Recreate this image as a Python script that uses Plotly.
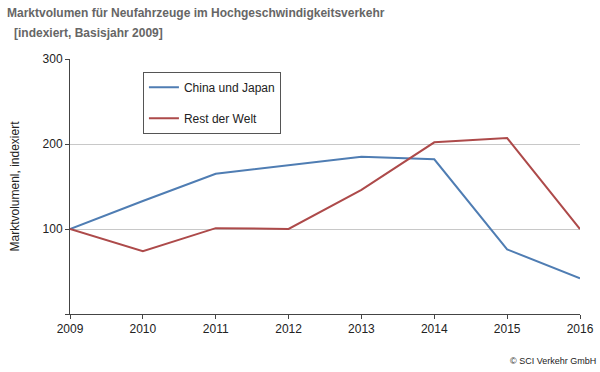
import plotly.graph_objects as go

years = [2009, 2010, 2011, 2012, 2013, 2014, 2015, 2016]
china_japan = [100, 133, 165, 175, 185, 182, 76, 42]
rest_der_welt = [100, 74, 101, 100, 146, 202, 207, 100]
y_ticks = [0, 100, 200, 300]
y_tick_labels = ["", "100", "200", "300"]

font_family = "Liberation Sans, Arial, sans-serif"

fig = go.Figure()
fig.add_trace(go.Scatter(x=years, y=china_japan, mode="lines", name="China und Japan",
                         legendgroup="a", line=dict(color="#4F7DB3", width=2)))
fig.add_trace(go.Scatter(x=years, y=rest_der_welt, mode="lines", name="Rest der Welt",
                         legendgroup="b", line=dict(color="#AD4A4A", width=2)))

fig.update_layout(
    width=600, height=372,
    margin=dict(l=70, r=20, t=59, b=58),
    paper_bgcolor="white", plot_bgcolor="white",
    font=dict(family=font_family, size=12, color="#222"),
    showlegend=True,
    legend=dict(x=0.143, y=0.95, xanchor="left", yanchor="top",
                bordercolor="#555", borderwidth=1, bgcolor="white",
                font=dict(size=12, color="#222"), tracegroupgap=12,
                itemwidth=30),
    xaxis=dict(range=[2009, 2016], tickmode="array", tickvals=years,
               ticktext=[str(y) for y in years], automargin=False,
               showgrid=False, zeroline=False, showline=True, linecolor="#444",
               linewidth=1, ticks="outside", ticklen=4, tickcolor="#444",
               tickfont=dict(size=12, color="#222")),
    yaxis=dict(range=[0, 300], tickmode="array", tickvals=y_ticks,
               ticktext=y_tick_labels, automargin=False,
               showgrid=True, gridcolor="#C8C8C8", gridwidth=1, zeroline=False,
               showline=True, linecolor="#444", linewidth=1, ticks="outside",
               ticklen=4, tickcolor="#444", tickfont=dict(size=12, color="#222"),
               title=dict(text="Marktvolumenl, indexiert", font=dict(size=12, color="#222"),
                          standoff=20)),
    annotations=[
        dict(text="<b>Marktvolumen für Neufahrzeuge im Hochgeschwindigkeitsverkehr</b>",
             xref="paper", yref="paper", x=-0.127, y=1.18, xanchor="left", yanchor="middle",
             showarrow=False, font=dict(size=12, color="#666")),
        dict(text="<b>[indexiert, Basisjahr 2009]</b>",
             xref="paper", yref="paper", x=-0.114, y=1.1, xanchor="left", yanchor="middle",
             showarrow=False, font=dict(size=12, color="#666")),
        dict(text="© SCI Verkehr GmbH",
             xref="paper", yref="paper", x=1.035, y=-0.185, xanchor="right", yanchor="middle",
             showarrow=False, font=dict(size=9, color="#222")),
    ],
)

fig.write_html("out.html", config={"displayModeBar": False},
               post_script="document.body.style.margin='0';")
